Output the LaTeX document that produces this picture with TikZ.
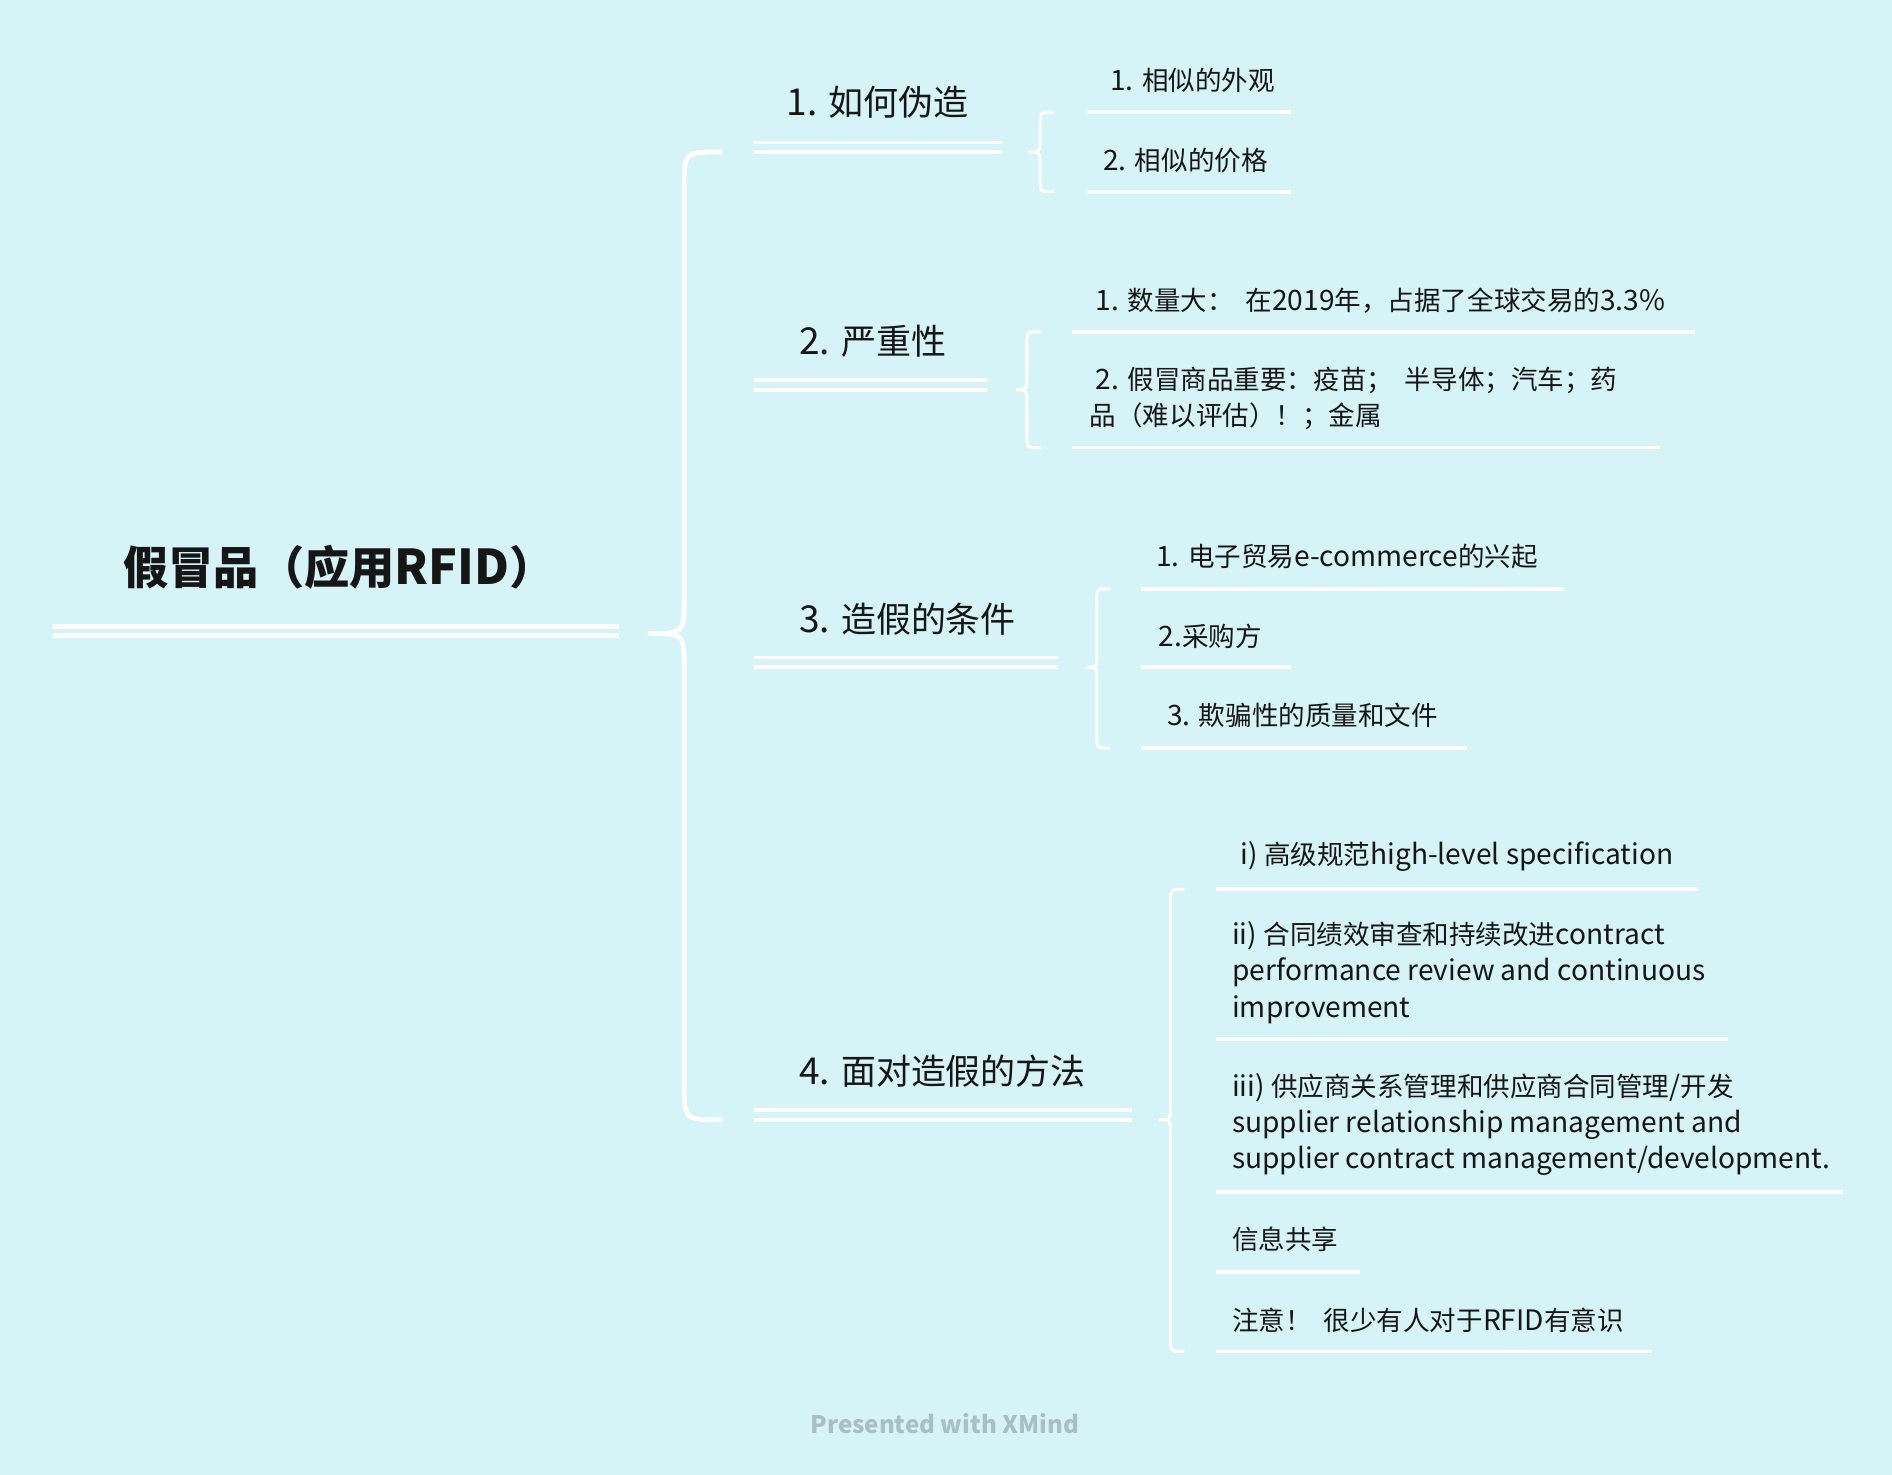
\documentclass[tikz,border=0pt]{standalone}
\usepackage{fontspec}
\setmainfont{Noto Sans CJK SC}
\newfontfamily\lat[Scale=1.06]{Noto Sans CJK SC}
\definecolor{bg}{HTML}{D6F4F8}
\definecolor{ft}{HTML}{A8BFC4}
\definecolor{tx}{HTML}{161616}
\newcommand\drawbrace[8]{% style, xend, xv, xp, yt, ym, yb, r
  \draw[#1] (#2,#5) .. controls (#3,#5) .. (#3,#5+#8) -- (#3,#6-#8)
    .. controls (#3,#6) .. (#4,#6) .. controls (#3,#6) .. (#3,#6+#8)
    -- (#3,#7-#8) .. controls (#3,#7) .. (#2,#7);}
\begin{document}
\begin{tikzpicture}[x=1pt,y=-1pt,
  rootnode/.style={anchor=west,inner sep=0pt,text=tx,font=\fontsize{37.5}{44}\selectfont\bfseries},
  branchnode/.style={anchor=west,inner sep=0pt,text=tx,font=\fontsize{29}{34}\selectfont},
  leafnode/.style={anchor=west,inner sep=0pt,text=tx,align=left,font=\fontsize{22}{30}\selectfont},
  rootline/.style={white,line width=4pt},
  dline/.style={white,line width=3pt},
  uline/.style={white,line width=3pt},
  bigbrace/.style={white,line width=4pt,line cap=round},
  smallbrace/.style={white,line width=2.5pt,line cap=round}]
\fill[bg] (0,0) rectangle (1568,1222);
\useasboundingbox (0,0) rectangle (1568,1222);

% root
\node[rootnode] (root) at (102,470) {假冒品（应用{\lat RFID}）};
\draw[rootline] (44,519) -- (513,519);
\draw[rootline] (44,527) -- (513,527);
\coordinate (rootend) at (513,523);

% big brace
\drawbrace{bigbrace}{597}{567}{537}{126}{525}{928}{30}

% branches
\node[branchnode] (b1) at (652,85) {{\lat 1. }如何伪造};
\draw[dline] (625,118) -- (830,118); \draw[dline] (625,126) -- (830,126);
\node[branchnode] (b2) at (662,283) {{\lat 2. }严重性};
\draw[dline] (625,315) -- (818,315); \draw[dline] (625,323) -- (818,323);
\node[branchnode] (b3) at (662,513) {{\lat 3. }造假的条件};
\draw[dline] (625,545) -- (877,545); \draw[dline] (625,553) -- (877,553);
\node[branchnode] (b4) at (662,888) {{\lat 4. }面对造假的方法};
\draw[dline] (625,920) -- (938,920); \draw[dline] (625,928) -- (938,928);

% branch 1 children
\drawbrace{smallbrace}{873}{862}{852}{93}{126}{159}{10}
\node[leafnode] (c11) at (920,67) {{\lat 1. }相似的外观};
\draw[uline] (900,93) -- (1070,93);
\node[leafnode] (c12) at (914,133) {{\lat 2. }相似的价格};
\draw[uline] (900,159) -- (1070,159);

% branch 2 children
\drawbrace{smallbrace}{862}{851}{842}{275}{323}{371}{10}
\node[leafnode] (c21) at (908,249) {{\lat 1. }数量大：\ \ 在{\lat 2019}年，占据了全球交易的{\lat 3.3\%}};
\draw[uline] (888,275) -- (1405,275);
\node[leafnode] (c22) at (903,330) {\ {\lat 2. }假冒商品重要：疫苗；\ \ 半导体；汽车；药\\品（难以评估）！；金属};
\draw[uline] (888,371) -- (1376,371);

% branch 3 children
\drawbrace{smallbrace}{919}{909}{900}{488}{553}{620}{10}
\node[leafnode] (c31) at (958,461) {{\lat 1. }电子贸易{\lat e-commerce}的兴起};
\draw[uline] (946,488) -- (1296,488);
\node[leafnode] (c32) at (960,527) {{\lat 2.}采购方};
\draw[uline] (946,553) -- (1070,553);
\node[leafnode] (c33) at (967,593) {{\lat 3. }欺骗性的质量和文件};
\draw[uline] (946,620) -- (1216,620);

% branch 4 children
\drawbrace{smallbrace}{981}{970}{960}{737}{928}{1120}{12}
\node[leafnode] (c41) at (1028,710) {{\lat i) }高级规范{\lat high-level specification}};
\draw[uline] (1008,737) -- (1407,737);
\node[leafnode] (c42) at (1021,806) {{\lat ii) }合同绩效审查和持续改进{\lat contract}\\{\lat performance review and continuous}\\{\lat improvement}};
\draw[uline] (1008,861) -- (1432,861);
\node[leafnode] (c43) at (1021,932) {{\lat iii) }供应商关系管理和供应商合同管理{\lat /}开发\\{\lat supplier relationship management and}\\{\lat supplier contract management/development.}};
\draw[uline] (1008,988) -- (1527,988);
\node[leafnode] (c44) at (1021,1027) {信息共享};
\draw[uline] (1008,1054) -- (1127,1054);
\node[leafnode] (c45) at (1021,1094) {注意！\ \ 很少有人对于{\lat RFID}有意识};
\draw[uline] (1008,1120) -- (1369,1120);

% footer
\node[inner sep=0pt,text=ft,font=\fontsize{20}{24}\selectfont\bfseries] (foot) at (783,1180) {Presented with XMind};
\end{tikzpicture}
\end{document}
